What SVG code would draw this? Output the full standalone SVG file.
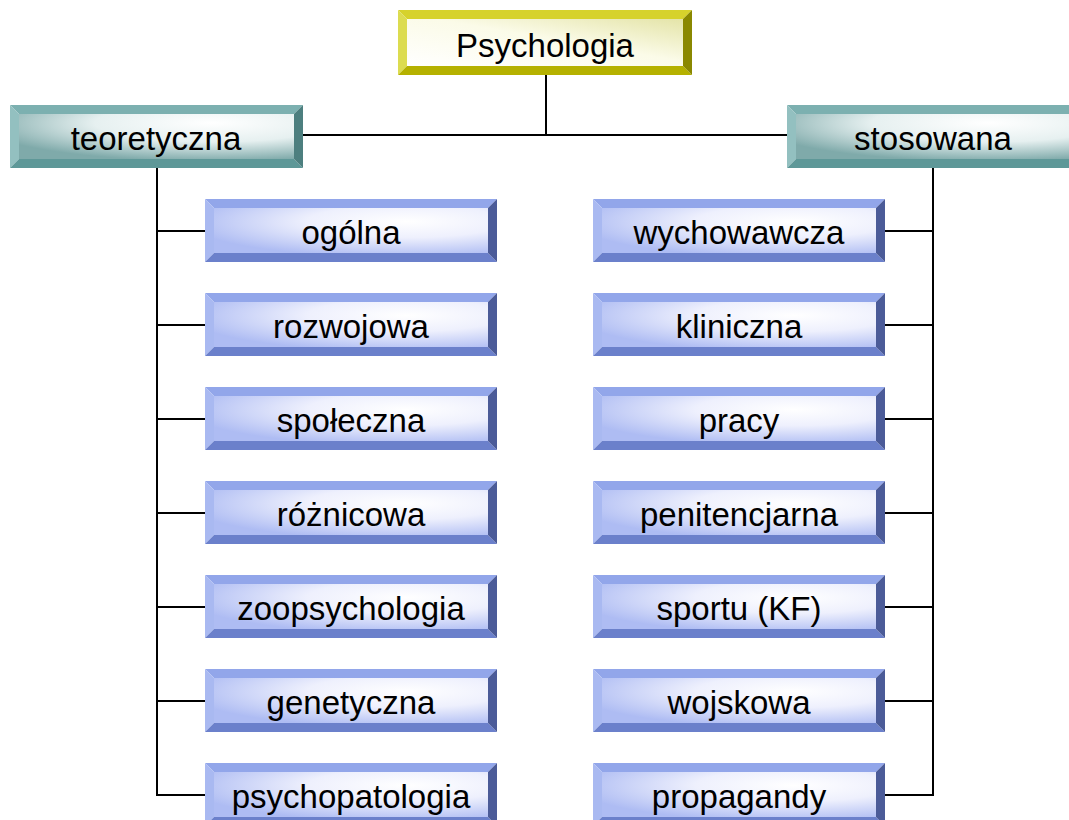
<svg xmlns="http://www.w3.org/2000/svg" xmlns:xlink="http://www.w3.org/1999/xlink" width="1069" height="820" viewBox="0 0 1069 820">
  <style>
    .lbl { font-family: "Liberation Sans", Arial, sans-serif; font-size: 33px; fill: #000; text-anchor: middle; }
    .conn { stroke: #000; stroke-width: 2; fill: none; }
    .b-t { fill: #92a6ea; } .b-l { fill: #a9b9f1; } .b-b { fill: #6b80cb; } .b-r { fill: #4b5b98; }
    .t-t { fill: #7cb0b0; } .t-l { fill: #93c0c0; } .t-b { fill: #5e9898; } .t-r { fill: #4d7f7f; }
    .y-t { fill: #d6d22c; } .y-l { fill: #dcdc50; } .y-b { fill: #b5b100; } .y-r { fill: #8a8800; }
  </style>
  <defs>
    <radialGradient id="gBlue" cx="0.7" cy="0.3" r="0.8">
      <stop offset="0" stop-color="#ffffff"/>
      <stop offset="0.45" stop-color="#eef0fd"/>
      <stop offset="1" stop-color="#aebcf3"/>
    </radialGradient>
    <radialGradient id="gTeal" cx="0.7" cy="0.2" r="0.85">
      <stop offset="0" stop-color="#ffffff"/>
      <stop offset="0.5" stop-color="#e6f0f0"/>
      <stop offset="1" stop-color="#7faaaa"/>
    </radialGradient>
    <linearGradient id="gYel" x1="0" y1="1" x2="1" y2="0">
      <stop offset="0" stop-color="#ffffff"/>
      <stop offset="0.55" stop-color="#fbfbe8"/>
      <stop offset="1" stop-color="#e4e4a8"/>
    </linearGradient>
    <g id="blueBox">
      <polygon class="b-t" points="0,0 292,0 283,9 9,9"/>
      <polygon class="b-l" points="0,0 9,9 9,54 0,63"/>
      <polygon class="b-b" points="0,63 9,54 283,54 292,63"/>
      <polygon class="b-r" points="292,0 292,63 283,54 283,9"/>
      <rect x="9" y="9" width="274" height="45" fill="url(#gBlue)"/>
    </g>
  </defs>

  <g id="connectors">
    <polyline class="conn" points="546,75 546,135"/>
    <polyline class="conn" points="303,135 787,135"/>
    <polyline class="conn" points="157,168 157,795 205,795"/>
    <line class="conn" x1="157" y1="231" x2="205" y2="231"/>
    <line class="conn" x1="157" y1="325" x2="205" y2="325"/>
    <line class="conn" x1="157" y1="419" x2="205" y2="419"/>
    <line class="conn" x1="157" y1="513" x2="205" y2="513"/>
    <line class="conn" x1="157" y1="607" x2="205" y2="607"/>
    <line class="conn" x1="157" y1="701" x2="205" y2="701"/>
    <polyline class="conn" points="933,168 933,795 885,795"/>
    <line class="conn" x1="885" y1="231" x2="933" y2="231"/>
    <line class="conn" x1="885" y1="325" x2="933" y2="325"/>
    <line class="conn" x1="885" y1="419" x2="933" y2="419"/>
    <line class="conn" x1="885" y1="513" x2="933" y2="513"/>
    <line class="conn" x1="885" y1="607" x2="933" y2="607"/>
    <line class="conn" x1="885" y1="701" x2="933" y2="701"/>
  </g>

  <g id="psychologia">
    <polygon class="y-t" points="398,10 692,10 683,19 407,19"/>
    <polygon class="y-l" points="398,10 407,19 407,66 398,75"/>
    <polygon class="y-b" points="398,75 407,66 683,66 692,75"/>
    <polygon class="y-r" points="692,10 692,75 683,66 683,19"/>
    <rect x="407" y="19" width="276" height="47" fill="url(#gYel)"/>
    <text class="lbl" x="545" y="57">Psychologia</text>
  </g>

  <g id="teoretyczna">
    <polygon class="t-t" points="10,105 303,105 294,114 19,114"/>
    <polygon class="t-l" points="10,105 19,114 19,159 10,168"/>
    <polygon class="t-b" points="10,168 19,159 294,159 303,168"/>
    <polygon class="t-r" points="303,105 303,168 294,159 294,114"/>
    <rect x="19" y="114" width="275" height="45" fill="url(#gTeal)"/>
    <text class="lbl" x="156" y="150">teoretyczna</text>
  </g>

  <g id="stosowana">
    <polygon class="t-t" points="787,105 1080,105 1071,114 796,114"/>
    <polygon class="t-l" points="787,105 796,114 796,159 787,168"/>
    <polygon class="t-b" points="787,168 796,159 1071,159 1080,168"/>
    <polygon class="t-r" points="1080,105 1080,168 1071,159 1071,114"/>
    <rect x="796" y="114" width="275" height="45" fill="url(#gTeal)"/>
    <text class="lbl" x="933" y="150">stosowana</text>
  </g>

  <g id="ogolna"><use xlink:href="#blueBox" x="205" y="199"/><text class="lbl" x="351" y="244">ogólna</text></g>
  <g id="rozwojowa"><use xlink:href="#blueBox" x="205" y="293"/><text class="lbl" x="351" y="338">rozwojowa</text></g>
  <g id="spoleczna"><use xlink:href="#blueBox" x="205" y="387"/><text class="lbl" x="351" y="432">społeczna</text></g>
  <g id="roznicowa"><use xlink:href="#blueBox" x="205" y="481"/><text class="lbl" x="351" y="526">różnicowa</text></g>
  <g id="zoopsychologia"><use xlink:href="#blueBox" x="205" y="575"/><text class="lbl" x="351" y="620">zoopsychologia</text></g>
  <g id="genetyczna"><use xlink:href="#blueBox" x="205" y="669"/><text class="lbl" x="351" y="714">genetyczna</text></g>
  <g id="psychopatologia"><use xlink:href="#blueBox" x="205" y="763"/><text class="lbl" x="351" y="808">psychopatologia</text></g>

  <g id="wychowawcza"><use xlink:href="#blueBox" x="593" y="199"/><text class="lbl" x="739" y="244">wychowawcza</text></g>
  <g id="kliniczna"><use xlink:href="#blueBox" x="593" y="293"/><text class="lbl" x="739" y="338">kliniczna</text></g>
  <g id="pracy"><use xlink:href="#blueBox" x="593" y="387"/><text class="lbl" x="739" y="432">pracy</text></g>
  <g id="penitencjarna"><use xlink:href="#blueBox" x="593" y="481"/><text class="lbl" x="739" y="526">penitencjarna</text></g>
  <g id="sportu"><use xlink:href="#blueBox" x="593" y="575"/><text class="lbl" x="739" y="620">sportu (KF)</text></g>
  <g id="wojskowa"><use xlink:href="#blueBox" x="593" y="669"/><text class="lbl" x="739" y="714">wojskowa</text></g>
  <g id="propagandy"><use xlink:href="#blueBox" x="593" y="763"/><text class="lbl" x="739" y="808">propagandy</text></g>
</svg>
